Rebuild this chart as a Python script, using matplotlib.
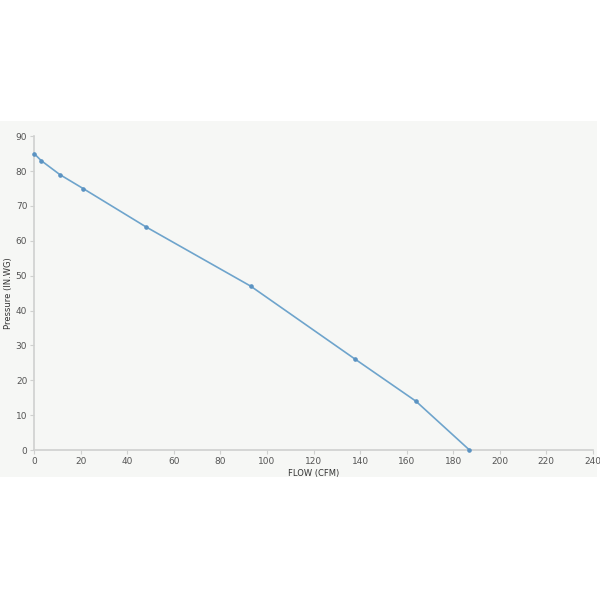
import matplotlib
matplotlib.use("Agg")
import matplotlib.pyplot as plt
from matplotlib.patches import Rectangle

# fan curve
flow = [0, 3, 11, 21, 48, 93, 138, 164, 187]
pressure = [85, 83, 79, 75, 64, 47, 26, 14, 0]

x_ticks = list(range(0, 241, 20))
y_ticks = list(range(0, 91, 10))

fig = plt.figure(figsize=(6, 6), dpi=100)
fig.patch.set_facecolor("white")

# light panel behind the chart
fig.add_artist(Rectangle((0, 0.205), 0.995, 0.593, transform=fig.transFigure,
                         facecolor="#f6f7f5", edgecolor="none", zorder=-5))

ax = fig.add_axes([0.057, 0.25, 0.931, 0.523])
ax.set_facecolor("#f6f7f5")

ax.plot(flow, pressure, color="#6ea4cc", lw=1.2, marker="o", ms=2.3,
        mfc="#5b93c2", mec="#5b93c2", zorder=3, clip_on=False)

ax.set_xlim(0, 240)
ax.set_ylim(0, 90)
ax.set_xticks(x_ticks)
ax.set_yticks(y_ticks)

for s in ["top", "right"]:
    ax.spines[s].set_visible(False)
for s in ["left", "bottom"]:
    ax.spines[s].set_color("#cfd0cf")
    ax.spines[s].set_linewidth(1.2)

ax.tick_params(axis="both", labelsize=6.5, colors="#cfd0cf", labelcolor="#555555",
               length=3, width=0.8, pad=2)

ax.set_xlabel("FLOW (CFM)", fontsize=6, color="#333333", labelpad=2)
ax.set_ylabel("Pressure (IN.WG)", fontsize=6, color="#333333", labelpad=2)

fig.savefig("out.png", dpi=100)
